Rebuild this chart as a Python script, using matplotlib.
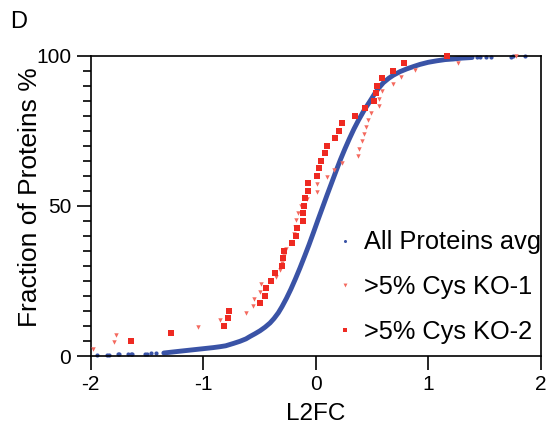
import matplotlib
matplotlib.use("Agg")
import matplotlib.pyplot as plt
from matplotlib.lines import Line2D

plt.rcParams['font.family'] = ['Liberation Sans', 'DejaVu Sans']

# ---- data ----
# All proteins: sparse tail dots and dense central curve (L2FC, cumulative %)
all_tail_x = [-1.941, -1.858, -1.834, -1.754, -1.745, -1.665, -1.644, -1.630, -1.517, -1.502,
              -1.464, -1.419, 1.431, 1.460, 1.511, 1.556, 1.733, 1.757, 1.860]
all_tail_y = [0.35, 0.4, 0.45, 0.5, 0.55, 0.6, 0.65, 0.7, 0.75, 0.8,
              0.85, 0.9, 99.5, 99.55, 99.6, 99.65, 99.7, 99.75, 99.8]
all_x = [-1.35, -1.206, -1.058, -0.91, -0.85, -0.80, -0.73, -0.673, -0.62, -0.584, -0.54,
         -0.495, -0.45, -0.406, -0.37, -0.332, -0.30, -0.26, -0.22, -0.18, -0.14, -0.10,
         -0.06, -0.02, 0.02, 0.06, 0.10, 0.14, 0.18, 0.22, 0.26, 0.30, 0.34,
         0.38, 0.43, 0.48, 0.527, 0.56, 0.601, 0.65, 0.69, 0.75, 0.809, 0.87, 0.927, 1.0,
         1.076, 1.15, 1.223, 1.30, 1.39]
all_y = [1.0, 1.6, 2.2, 2.8, 3.1, 3.4, 4.2, 4.9, 5.7, 6.5, 7.4,
         8.4, 9.6, 11.0, 12.5, 14.4, 16.4, 19.2, 22.3, 25.7, 29.3, 33.1,
         37.0, 41.1, 45.3, 49.4, 53.5, 57.5, 61.5, 65.4, 69.0, 72.4, 75.6,
         78.5, 81.8, 84.7, 87.5, 89.2, 91.0, 92.5, 93.5, 94.7, 95.6, 96.4, 97.1, 97.8,
         98.3, 98.7, 98.9, 99.2, 99.4]

ko1_x = [-1.982, -1.796, -1.778, -1.043, -0.853, -0.622, -0.560, -0.551, -0.498, -0.489,
         -0.356, -0.317, -0.302, -0.282, -0.267, -0.213, -0.193, -0.184, -0.175, -0.155,
         -0.133, -0.075, 0.012, 0.012, 0.098, 0.163, 0.231, 0.379, 0.388, 0.412,
         0.429, 0.450, 0.468, 0.489, 0.563, 0.565, 0.587, 0.690, 0.758, 0.883,
         1.262, 1.776]
ko1_y = [2.38, 4.76, 7.14, 9.52, 11.90, 14.29, 16.67, 19.05, 21.43, 23.81,
         26.19, 28.57, 30.95, 33.33, 35.71, 38.10, 40.48, 42.86, 45.24, 47.62,
         50.00, 52.38, 54.76, 57.14, 59.52, 61.90, 64.29, 66.67, 69.05, 71.43,
         73.81, 76.19, 78.57, 80.95, 83.33, 85.71, 88.10, 90.48, 92.86, 95.24,
         97.62, 100.0]

ko2_x = [-1.644, -1.289, -0.818, -0.782, -0.770, -0.495, -0.450, -0.441, -0.397, -0.362,
         -0.300, -0.289, -0.282, -0.212, -0.175, -0.168, -0.115, -0.114, -0.104, -0.095,
         -0.067, -0.066, 0.010, 0.030, 0.047, 0.083, 0.100, 0.172, 0.207, 0.234,
         0.350, 0.438, 0.518, 0.536, 0.544, 0.588, 0.686, 0.785, 1.168]
ko2_y = [5.0, 7.5, 10.0, 12.5, 15.0, 17.5, 20.0, 22.5, 25.0, 27.5,
         30.0, 32.5, 35.0, 37.5, 40.0, 42.5, 45.0, 47.5, 50.0, 52.5,
         55.0, 57.5, 60.0, 62.5, 65.0, 67.5, 70.0, 72.5, 75.0, 77.5,
         80.0, 82.5, 85.0, 87.5, 90.0, 92.5, 95.0, 97.5, 100.0]

labels = ["All Proteins avg", ">5% Cys KO-1", ">5% Cys KO-2"]
xticks = [-2, -1, 0, 1, 2]
yticks = [0, 50, 100]

BLUE = '#3A53A6'
RED = '#EE2A22'
RED1 = '#F4695E'

fig = plt.figure(figsize=(5.48, 4.44), dpi=100)
ax = fig.add_axes([90.7 / 548, (444 - 356) / 444, 450 / 548, 300.3 / 444])

ax.plot(all_x, all_y, '-', color=BLUE, lw=3.5, solid_capstyle='round',
        solid_joinstyle='round', zorder=2)
ax.plot(all_tail_x, all_tail_y, 'o', color=BLUE, ms=3.0, mew=0, zorder=2, clip_on=False)
ax.plot(ko1_x, ko1_y, 'v', color=RED1, ms=3.2, mew=0, zorder=3, clip_on=False)
ax.plot(ko2_x, ko2_y, 's', color=RED, ms=4.2, mew=0, zorder=4, clip_on=False)

ax.set_xlim(-2, 2)
ax.set_ylim(0, 100)
ax.set_xticks(xticks)
ax.set_xticklabels([str(t) for t in xticks])
ax.set_yticks(yticks)
ax.set_yticks(range(0, 101, 5), minor=True)

for s in ax.spines.values():
    s.set_linewidth(1.2)
ax.tick_params(axis='both', which='major', direction='out', length=10, width=1.2,
               labelsize=15, pad=4)
ax.tick_params(axis='y', which='minor', direction='out', length=5.5, width=1.2)
ax.tick_params(axis='x', which='minor', length=0)

ax.set_xlabel("L2FC", fontsize=17.5, labelpad=6)
ax.set_ylabel("Fraction of Proteins %", fontsize=19)
ax.yaxis.set_label_coords(-0.108, 0.53)

handles = [
    Line2D([], [], ls='none', marker='o', color=BLUE, ms=2.2, mew=0),
    Line2D([], [], ls='none', marker='v', color=RED1, ms=2.8, mew=0),
    Line2D([], [], ls='none', marker='s', color=RED, ms=3.2, mew=0),
]
ax.legend(handles, labels, loc='upper left', bbox_to_anchor=(0.548, 0.418), frameon=False,
          fontsize=18.3, handlelength=0.6, handletextpad=0.45, labelspacing=0.82,
          borderpad=0, borderaxespad=0)

fig.text(10 / 548, 1 - 28 / 444, "D", fontsize=17, ha='left', va='baseline')

fig.savefig("out.png", dpi=100)
